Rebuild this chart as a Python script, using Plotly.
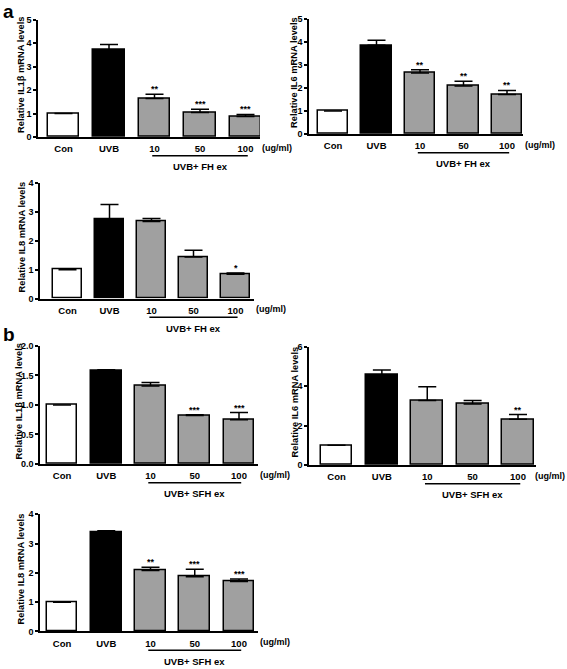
import plotly.graph_objects as go

W, H = 567, 669
FONT = "Liberation Sans, Arial, sans-serif"

# ---------------- data ----------------
categories = ["Con", "UVB", "10", "50", "100"]
bar_colors = ["#ffffff", "#000000", "#a0a0a0", "#a0a0a0", "#a0a0a0"]

a_il1b_mean = [1.00, 3.72, 1.64, 1.05, 0.87]
a_il1b_err = [0.00, 0.23, 0.18, 0.13, 0.09]
a_il1b_sig = ["", "", "**", "***", "***"]

a_il6_mean = [1.00, 3.85, 2.65, 2.08, 1.72]
a_il6_err = [0.00, 0.22, 0.14, 0.21, 0.17]
a_il6_sig = ["", "", "**", "**", "**"]

a_il8_mean = [1.00, 2.75, 2.67, 1.44, 0.84]
a_il8_err = [0.00, 0.51, 0.11, 0.24, 0.05]
a_il8_sig = ["", "", "", "", "*"]

b_il1b_mean = [1.00, 1.58, 1.32, 0.82, 0.75]
b_il1b_err = [0.00, 0.015, 0.06, 0.015, 0.12]
b_il1b_sig = ["", "", "", "***", "***"]

b_il6_mean = [1.00, 4.57, 3.27, 3.10, 2.32]
b_il6_err = [0.00, 0.25, 0.70, 0.17, 0.24]
b_il6_sig = ["", "", "", "", "**"]

b_il8_mean = [1.00, 3.37, 2.08, 1.87, 1.71]
b_il8_err = [0.00, 0.07, 0.11, 0.25, 0.08]
b_il8_sig = ["", "", "**", "***", "***"]

y_titles = ["Relative IL1β mRNA levels", "Relative IL6 mRNA levels", "Relative IL8 mRNA levels"]
group_a = "UVB+ FH ex"
group_b = "UVB+ SFH ex"
unit_label = "(ug/ml)"

# ---------------- panel geometry (pixels) ----------------
panels = [
    dict(d=(a_il1b_mean, a_il1b_err, a_il1b_sig), t=y_titles[0], g=group_a, tx=21,
         left=38, c0=63.5, c4=245.5, right=260, ytop=15, y0=134, ymax=5, dtick=1, fmt=None),
    dict(d=(a_il6_mean, a_il6_err, a_il6_sig), t=y_titles[1], g=group_a, tx=294,
         left=309, c0=333, c4=507, right=523, ytop=14, y0=131, ymax=5, dtick=1, fmt=None),
    dict(d=(a_il8_mean, a_il8_err, a_il8_sig), t=y_titles[2], g=group_a, tx=22,
         left=40, c0=67.5, c4=235.5, right=254, ytop=181, y0=298, ymax=4, dtick=1, fmt=None),
    dict(d=(b_il1b_mean, b_il1b_err, b_il1b_sig), t=y_titles[0], g=group_b, tx=19,
         left=40, c0=62, c4=239, right=258, ytop=346, y0=466, ymax=2.0, dtick=0.5, fmt=".1f"),
    dict(d=(b_il6_mean, b_il6_err, b_il6_sig), t=y_titles[1], g=group_b, tx=295,
         left=309, c0=336.5, c4=518, right=536, ytop=347, y0=467, ymax=6, dtick=2, fmt=None),
    dict(d=(b_il8_mean, b_il8_err, b_il8_sig), t=y_titles[2], g=group_b, tx=21,
         left=40, c0=62, c4=239, right=258, ytop=517, y0=636, ymax=4, dtick=1, fmt=None),
]

def px(x):
    return x / W

def py(y):
    return 1 - y / H

fig = go.Figure()
annotations = []
shapes = []
xs = list(range(len(categories)))

for i, p in enumerate(panels, start=1):
    mean, err, sig = p["d"]
    s = (p["c4"] - p["c0"]) / 4.0
    xr0 = (p["left"] - p["c0"]) / s
    xr1 = (p["right"] - p["c0"]) / s
    xa = "x" if i == 1 else f"x{i}"
    ya = "y" if i == 1 else f"y{i}"
    fig.add_trace(go.Bar(
        x=xs, y=mean, width=0.7,
        marker=dict(color=bar_colors, line=dict(color="#000000", width=1.5)),
        error_y=dict(type="data", array=err, arrayminus=[0] * len(err), symmetric=False,
                     color="#000000", thickness=1.5, width=9),
        xaxis=xa, yaxis=ya, showlegend=False,
    ))
    ax = dict(domain=[px(p["left"]), px(p["right"])], range=[xr0, xr1],
              tickvals=xs, ticktext=categories, showgrid=False, zeroline=False,
              showline=True, linecolor="#000000", linewidth=1.5,
              ticks="outside", ticklen=2, tickcolor="rgba(0,0,0,0)",
              tickfont=dict(family=FONT, size=9.5, color="#000000", weight="bold"),
              anchor=ya, fixedrange=True)
    ay = dict(domain=[py(p["y0"]), py(p["ytop"])], range=[0, p["ymax"]],
              dtick=p["dtick"], tick0=0, showgrid=False, zeroline=False,
              showline=True, linecolor="#000000", linewidth=1.5,
              ticks="outside", ticklen=3, tickwidth=1.5, tickcolor="#000000",
              tickfont=dict(family=FONT, size=9, color="#000000", weight="bold"),
              anchor=xa, fixedrange=True)
    if p["fmt"]:
        ay["tickformat"] = p["fmt"]
    fig.layout[("xaxis" if i == 1 else f"xaxis{i}")] = ax
    fig.layout[("yaxis" if i == 1 else f"yaxis{i}")] = ay

    for k in range(len(categories)):
        if sig[k]:
            annotations.append(dict(x=xs[k], y=mean[k] + err[k], xref=xa, yref=ya,
                                    text=sig[k], showarrow=False, yanchor="bottom", yshift=-2,
                                    font=dict(family=FONT, size=9, color="#000000", weight="bold")))
    annotations.append(dict(x=px(p["tx"]), y=py((p["ytop"] + p["y0"]) / 2 - 3.5),
                            xref="paper", yref="paper", text=p["t"], textangle=-90,
                            showarrow=False, xanchor="center", yanchor="middle",
                            font=dict(family=FONT, size=9.3, color="#000000", weight="bold")))
    if p["right"] + 34 > W:
        ux, uanchor = px(W - 1), "right"
    else:
        ux, uanchor = px(p["right"] + 1), "left"
    annotations.append(dict(x=ux, y=py(p["y0"] + 11), xref="paper", yref="paper",
                            text=unit_label, showarrow=False, xanchor=uanchor, yanchor="middle",
                            borderpad=0,
                            font=dict(family=FONT, size=9, color="#000000", weight="bold")))
    shapes.append(dict(type="line", xref=xa, yref="paper", x0=1.95, x1=4.05,
                       y0=py(p["y0"] + 19), y1=py(p["y0"] + 19),
                       line=dict(color="#000000", width=1.5)))
    annotations.append(dict(x=3, y=py(p["y0"] + 30), xref=xa, yref="paper", text=p["g"],
                            showarrow=False, xanchor="center", yanchor="middle",
                            font=dict(family=FONT, size=9.5, color="#000000", weight="bold")))

annotations.append(dict(x=px(1), y=py(-6), xref="paper", yref="paper", text="a", showarrow=False,
                        xanchor="left", yanchor="top",
                        font=dict(family=FONT, size=19, color="#000000", weight="bold")))
annotations.append(dict(x=px(1), y=py(322), xref="paper", yref="paper", text="b", showarrow=False,
                        xanchor="left", yanchor="top",
                        font=dict(family=FONT, size=19, color="#000000", weight="bold")))

fig.update_layout(width=W, height=H, margin=dict(l=0, r=0, t=0, b=0),
                  paper_bgcolor="#ffffff", plot_bgcolor="#ffffff",
                  annotations=annotations, shapes=shapes, bargap=0)
fig.write_html("out.html", config={"displayModeBar": False},
               post_script="document.body.style.margin='0';document.body.style.overflow='hidden';")
